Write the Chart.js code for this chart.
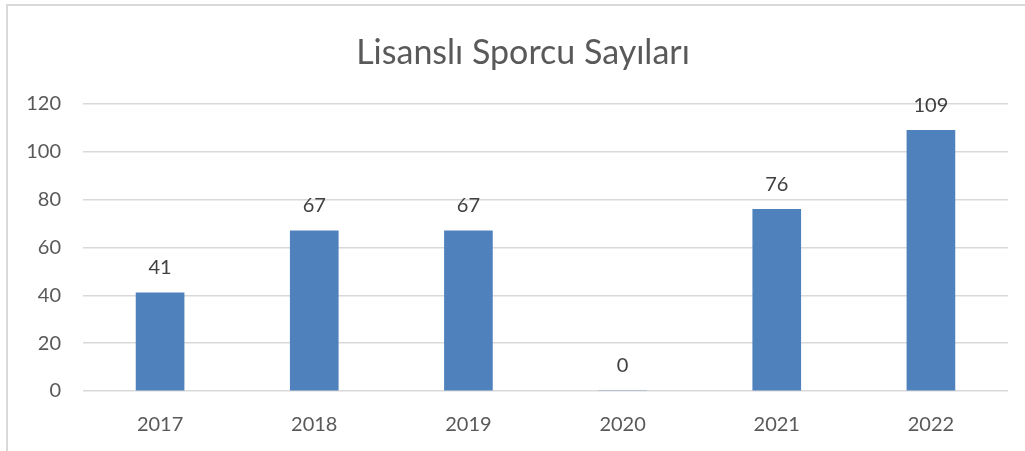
<!DOCTYPE html>
<html>
<head>
<meta charset="utf-8">
<script src="https://cdn.jsdelivr.net/npm/chart.js@4"></script>
<style>
    html, body { margin: 0; padding: 0; background: #ffffff; }
    #wrap { position: relative; width: 1025px; height: 451px; overflow: hidden; }
</style>
</head>
<body>
<div id="wrap"><canvas id="sporcuChart" width="1025" height="451"></canvas></div>
<script>
var years = ['2017', '2018', '2019', '2020', '2021', '2022'];
var sporcuValues = [41, 67, 67, 0, 76, 109];
var yTicks = [0, 20, 40, 60, 80, 100, 120];
var chartTitle = 'Lisanslı Sporcu Sayıları';

// frame around the chart (left/top edges visible only) + title
var framePlugin = {
    id: 'frame',
    beforeDraw: function(chart) {
        var c = chart.ctx;
        c.save();
        c.fillStyle = '#ffffff';
        c.fillRect(0, 0, chart.width, chart.height);
        c.strokeStyle = '#d9d9d9';
        c.lineWidth = 2;
        c.strokeRect(7, 5, 1200, 600);
        c.font = "34px 'Lato', sans-serif";
        c.fillStyle = '#595959';
        c.textAlign = 'center';
        c.textBaseline = 'middle';
        c.fillText(chartTitle, 523, 53);
        c.restore();
    }
};

// value labels above bars
var valueLabels = {
    id: 'valueLabels',
    afterDatasetsDraw: function(chart) {
        var c = chart.ctx;
        var meta = chart.getDatasetMeta(0);
        c.save();
        c.font = "20px 'Lato', sans-serif";
        c.fillStyle = '#404040';
        c.textAlign = 'center';
        c.textBaseline = 'middle';
        meta.data.forEach(function(bar, i) {
            c.fillText(String(chart.data.datasets[0].data[i]), bar.x, bar.y - 25);
        });
        c.restore();
    }
};

var ctx = document.getElementById('sporcuChart').getContext('2d');
new Chart(ctx, {
    type: 'bar',
    data: {
        labels: years,
        datasets: [{
            label: 'Lisanslı Sporcu',
            data: sporcuValues,
            backgroundColor: '#4f81bd',
            borderWidth: 0,
            barThickness: 48
        }]
    },
    options: {
        responsive: false,
        animation: false,
        layout: {
            padding: { top: 104, right: 17, bottom: 0, left: 0 }
        },
        scales: {
            y: {
                min: 0,
                max: 120,
                afterFit: function(scale) { scale.width = 83; },
                afterBuildTicks: function(scale) {
                    scale.ticks = yTicks.map(function(v) { return { value: v }; });
                },
                grid: {
                    color: '#d9d9d9',
                    lineWidth: 1.5,
                    drawTicks: false
                },
                border: { display: false },
                ticks: {
                    padding: 22,
                    color: '#595959',
                    font: { size: 20, family: "'Lato', sans-serif" }
                }
            },
            x: {
                afterFit: function(scale) { scale.height = 60; },
                grid: { display: false, drawTicks: false },
                border: { display: false },
                ticks: {
                    padding: 22,
                    color: '#595959',
                    font: { size: 20, family: "'Lato', sans-serif" }
                }
            }
        },
        plugins: {
            legend: { display: false },
            tooltip: { enabled: false },
            title: { display: false }
        }
    },
    plugins: [framePlugin, valueLabels]
});
</script>
</body>
</html>
